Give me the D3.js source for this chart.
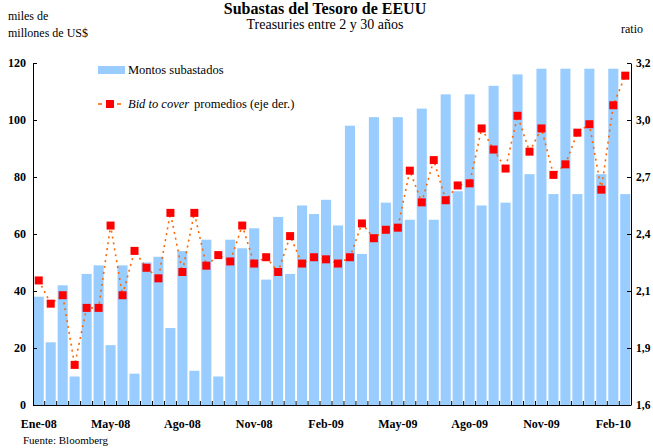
<!DOCTYPE html>
<html>
<head>
<meta charset="utf-8">
<script src="https://cdn.jsdelivr.net/npm/d3@7"></script>
<style>
  body { margin: 0; background: #fff; }
  svg { display: block; }
  svg text { font-family: "Liberation Serif", "Times New Roman", serif; fill: #000; }
  .axis text { font-size: 12px; font-weight: bold; }
  .axis path, .axis line { stroke: #000; }
</style>
</head>
<body>
<svg width="653" height="448"></svg>
<script>
// Montos subastados (miles de millones de US$), una barra por subasta
var montos = [38, 22, 42, 10, 46, 49, 21, 49, 11, 50,
              52, 27, 54, 12, 58, 10, 58, 55, 62, 44,
              66, 46, 70, 67, 72, 63, 98, 53, 101, 71,
              101, 65, 104, 65, 109, 75, 109, 70, 112, 71,
              116, 81, 118, 74, 118, 74, 118, 81, 118, 74];

// Bid to cover promedio (eje derecho)
var bidToCover = [2.24, 2.13, 2.17, 1.84, 2.11, 2.11, 2.50, 2.17, 2.38, 2.30,
                  2.25, 2.56, 2.28, 2.56, 2.31, 2.36, 2.33, 2.50, 2.32, 2.35,
                  2.28, 2.45, 2.32, 2.35, 2.34, 2.32, 2.35, 2.51, 2.44, 2.48,
                  2.49, 2.76, 2.61, 2.81, 2.62, 2.69, 2.70, 2.96, 2.86, 2.77,
                  3.02, 2.85, 2.96, 2.74, 2.79, 2.94, 2.98, 2.67, 3.07, 3.21];

// Etiquetas del eje x (cada 6 subastas)
var tickLabels = ["Ene-08", "May-08", "Ago-08", "Nov-08", "Feb-09", "May-09", "Ago-09", "Nov-09", "Feb-10"];
var leftTicks = [0, 20, 40, 60, 80, 100, 120];
var rightTicks = [1.65, 1.92, 2.19, 2.46, 2.73, 3.00, 3.27];
var rightLabels = ["1,6", "1,9", "2,1", "2,4", "2,7", "3,0", "3,2"];

var svg = d3.select("svg"),
    margin = {top: 63, right: 22, bottom: 43, left: 33},
    width = 653 - margin.left - margin.right,
    height = 448 - margin.top - margin.bottom,
    g = svg.append("g")
      .attr("transform", "translate(" + margin.left + "," + margin.top + ")");

var idx = montos.map(function(d, i) { return i; });

var x = d3.scaleBand().domain(idx).range([0, width]).paddingInner(0.16).paddingOuter(0.06),
    y = d3.scaleLinear().domain([0, 120]).range([height, 0]),
    y2 = d3.scaleLinear().domain([1.65, 3.27]).range([height, 0]);

// Bars
g.selectAll(".bar")
  .data(montos)
  .enter().append("rect")
    .attr("class", "bar")
    .attr("x", function(d, i) { return x(i); })
    .attr("y", function(d) { return y(d); })
    .attr("width", x.bandwidth())
    .attr("height", function(d) { return height - y(d); })
    .attr("fill", "#99ccff");

// Bid to cover line
var line = d3.line()
  .x(function(d, i) { return x(i) + x.bandwidth() / 2; })
  .y(function(d) { return y2(d); });

g.append("path")
  .datum(bidToCover)
  .attr("d", line)
  .attr("fill", "none")
  .attr("stroke", "#ff6600")
  .attr("stroke-width", 1.6)
  .attr("stroke-dasharray", "2,4");

g.selectAll(".pt")
  .data(bidToCover)
  .enter().append("rect")
    .attr("class", "pt")
    .attr("x", function(d, i) { return x(i) + x.bandwidth() / 2 - 4; })
    .attr("y", function(d) { return y2(d) - 4; })
    .attr("width", 8)
    .attr("height", 8)
    .attr("fill", "#ff0000");

// Y axes
g.append("g")
  .attr("class", "axis axis--y")
  .call(d3.axisLeft(y).tickValues(leftTicks).tickSize(-4).tickPadding(7).tickSizeOuter(0));

var yr = g.append("g")
  .attr("class", "axis axis--y2")
  .attr("transform", "translate(" + width + ",0)")
  .call(d3.axisRight(y2).tickValues(rightTicks).tickSize(-4).tickPadding(5).tickSizeOuter(0)
    .tickFormat(function(d, i) { return rightLabels[i]; }));
yr.selectAll("text").style("font-size", "11.5px");

// X axis
var xAxis = g.append("g")
  .attr("class", "axis axis--x")
  .attr("transform", "translate(0," + height + ")")
  .call(d3.axisBottom(x)
    .tickValues(idx.filter(function(i) { return i % 6 === 0; }))
    .tickSize(0).tickSizeOuter(0).tickPadding(14)
    .tickFormat(function(i) { return tickLabels[i / 6]; }));
xAxis.select(".domain").attr("d", "M0,0.5H" + width);

// small ticks between bars, pointing up
var step = x.step();
xAxis.selectAll(".sep")
  .data(idx.slice(1))
  .enter().append("line")
    .attr("class", "sep")
    .attr("x1", function(i) { return x(i) - (step - x.bandwidth()) / 2; })
    .attr("x2", function(i) { return x(i) - (step - x.bandwidth()) / 2; })
    .attr("y1", 0)
    .attr("y2", -4)
    .attr("stroke", "#000");

// Titles
svg.append("text")
  .attr("x", 325).attr("y", 14)
  .attr("text-anchor", "middle")
  .style("font-size", "16px").style("font-weight", "bold")
  .text("Subastas del Tesoro de EEUU");

svg.append("text")
  .attr("x", 325).attr("y", 29)
  .attr("text-anchor", "middle")
  .style("font-size", "14px")
  .text("Treasuries entre 2 y 30 años");

svg.append("text").attr("x", 8).attr("y", 20).style("font-size", "12px").text("miles de");
svg.append("text").attr("x", 8).attr("y", 37).style("font-size", "12px").text("millones de US$");
svg.append("text").attr("x", 621).attr("y", 33).style("font-size", "12px").text("ratio");

svg.append("text").attr("x", 23).attr("y", 444).style("font-size", "11px").text("Fuente: Bloomberg");

// Legend
var legend = svg.append("g");
legend.append("rect")
  .attr("x", 98).attr("y", 66).attr("width", 27).attr("height", 8)
  .attr("fill", "#99ccff");
legend.append("text")
  .attr("x", 128).attr("y", 74)
  .style("font-size", "12.5px")
  .text("Montos subastados");

[[98, 102], [117, 121]].forEach(function(s) {
  legend.append("line")
    .attr("x1", s[0]).attr("x2", s[1]).attr("y1", 104).attr("y2", 104)
    .attr("stroke", "#ff6600").attr("stroke-width", 1.6);
});
legend.append("rect")
  .attr("x", 106).attr("y", 100).attr("width", 8).attr("height", 8)
  .attr("fill", "#ff0000");
var lt = legend.append("text")
  .attr("x", 128).attr("y", 108)
  .style("font-size", "12.5px");
lt.append("tspan").style("font-style", "italic").text("Bid to cover");
lt.append("tspan").attr("x", 194).text("promedios (eje der.)");
</script>
</body>
</html>
